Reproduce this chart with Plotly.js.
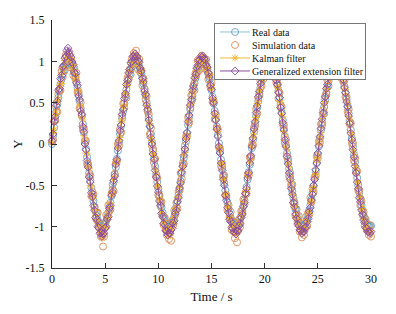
<!DOCTYPE html>
<html>
<head>
<meta charset="utf-8">
<script src="https://cdn.plot.ly/plotly-3.0.1.min.js"></script>
<style>
html,body{margin:0;padding:0;background:#fff;}
#chart{width:396px;height:314px;}
</style>
</head>
<body>
<div id="chart"></div>
<script>
const timeS = [
0,0.1,0.2,0.3,0.4,0.5,0.6,0.7,0.8,0.9,
1,1.1,1.2,1.3,1.4,1.5,1.6,1.7,1.8,1.9,
2,2.1,2.2,2.3,2.4,2.5,2.6,2.7,2.8,2.9,
3,3.1,3.2,3.3,3.4,3.5,3.6,3.7,3.8,3.9,
4,4.1,4.2,4.3,4.4,4.5,4.6,4.7,4.8,4.9,
5,5.1,5.2,5.3,5.4,5.5,5.6,5.7,5.8,5.9,
6,6.1,6.2,6.3,6.4,6.5,6.6,6.7,6.8,6.9,
7,7.1,7.2,7.3,7.4,7.5,7.6,7.7,7.8,7.9,
8,8.1,8.2,8.3,8.4,8.5,8.6,8.7,8.8,8.9,
9,9.1,9.2,9.3,9.4,9.5,9.6,9.7,9.8,9.9,
10,10.1,10.2,10.3,10.4,10.5,10.6,10.7,10.8,10.9,
11,11.1,11.2,11.3,11.4,11.5,11.6,11.7,11.8,11.9,
12,12.1,12.2,12.3,12.4,12.5,12.6,12.7,12.8,12.9,
13,13.1,13.2,13.3,13.4,13.5,13.6,13.7,13.8,13.9,
14,14.1,14.2,14.3,14.4,14.5,14.6,14.7,14.8,14.9,
15,15.1,15.2,15.3,15.4,15.5,15.6,15.7,15.8,15.9,
16,16.1,16.2,16.3,16.4,16.5,16.6,16.7,16.8,16.9,
17,17.1,17.2,17.3,17.4,17.5,17.6,17.7,17.8,17.9,
18,18.1,18.2,18.3,18.4,18.5,18.6,18.7,18.8,18.9,
19,19.1,19.2,19.3,19.4,19.5,19.6,19.7,19.8,19.9,
20,20.1,20.2,20.3,20.4,20.5,20.6,20.7,20.8,20.9,
21,21.1,21.2,21.3,21.4,21.5,21.6,21.7,21.8,21.9,
22,22.1,22.2,22.3,22.4,22.5,22.6,22.7,22.8,22.9,
23,23.1,23.2,23.3,23.4,23.5,23.6,23.7,23.8,23.9,
24,24.1,24.2,24.3,24.4,24.5,24.6,24.7,24.8,24.9,
25,25.1,25.2,25.3,25.4,25.5,25.6,25.7,25.8,25.9,
26,26.1,26.2,26.3,26.4,26.5,26.6,26.7,26.8,26.9,
27,27.1,27.2,27.3,27.4,27.5,27.6,27.7,27.8,27.9,
28,28.1,28.2,28.3,28.4,28.5,28.6,28.7,28.8,28.9,
29,29.1,29.2,29.3,29.4,29.5,29.6,29.7,29.8,29.9,
30];

const realData = [
0.00,0.10,0.20,0.30,0.39,0.48,0.56,0.64,0.72,0.78,
0.84,0.89,0.93,0.96,0.99,1.00,1.00,0.99,0.97,0.95,
0.91,0.86,0.81,0.75,0.68,0.60,0.52,0.43,0.34,0.24,
0.14,0.04,-0.06,-0.16,-0.26,-0.35,-0.44,-0.53,-0.61,-0.69,
-0.76,-0.82,-0.87,-0.92,-0.95,-0.98,-0.99,-1.00,-1.00,-0.98,
-0.96,-0.93,-0.88,-0.83,-0.77,-0.71,-0.63,-0.55,-0.46,-0.37,
-0.28,-0.18,-0.08,
0.02,0.12,0.22,0.31,0.40,0.49,0.58,0.66,0.73,0.79,
0.85,0.90,0.94,0.97,0.99,1.00,1.00,0.99,0.97,0.94,
0.90,0.85,0.80,0.73,0.66,0.59,0.50,0.41,0.32,0.22,
0.12,0.02,-0.08,-0.17,-0.27,-0.37,-0.46,-0.54,-0.63,-0.70,
-0.77,-0.83,-0.88,-0.92,-0.96,-0.98,-1.00,-1.00,-0.99,-0.98,
-0.95,-0.92,-0.88,-0.82,-0.76,-0.69,-0.62,-0.54,-0.45,-0.36,
-0.26,-0.17,-0.07,
0.03,0.13,0.23,0.33,0.42,0.51,0.59,0.67,0.74,0.80,
0.86,0.91,0.94,0.97,0.99,1.00,1.00,0.99,0.97,0.94,
0.90,0.85,0.79,0.72,0.65,0.57,0.49,0.40,0.30,0.21,
0.11,0.01,-0.09,-0.19,-0.29,-0.38,-0.47,-0.56,-0.64,-0.71,
-0.78,-0.84,-0.89,-0.93,-0.96,-0.98,-1.00,-1.00,-0.99,-0.98,
-0.95,-0.91,-0.87,-0.81,-0.75,-0.68,-0.61,-0.52,-0.43,-0.34,
-0.25,-0.15,-0.05,
0.05,0.15,0.25,0.34,0.44,0.52,0.61,0.68,0.75,0.81,
0.87,0.91,0.95,0.98,0.99,1.00,1.00,0.98,0.96,0.93,
0.89,0.84,0.78,0.71,0.64,0.56,0.47,0.38,0.29,0.19,
0.09,-0.01,-0.11,-0.21,-0.30,-0.40,-0.49,-0.57,-0.65,-0.72,
-0.79,-0.85,-0.90,-0.94,-0.97,-0.99,-1.00,-1.00,-0.99,-0.97,
-0.94,-0.91,-0.86,-0.80,-0.74,-0.67,-0.59,-0.51,-0.42,-0.33,
-0.23,-0.13,-0.03,
0.07,0.17,0.26,0.36,0.45,0.54,0.62,0.69,0.76,0.82,
0.88,0.92,0.95,0.98,0.99,1.00,1.00,0.98,0.96,0.92,
0.88,0.83,0.77,0.70,0.62,0.54,0.46,0.37,0.27,0.17,
0.07,-0.03,-0.13,-0.22,-0.32,-0.41,-0.50,-0.59,-0.66,-0.74,
-0.80,-0.86,-0.90,-0.94,-0.97,-0.99,-1.00,-1.00,-0.99];

const simulationData = [
0.03,0.05,0.28,0.28,0.45,0.39,0.60,0.65,0.65,0.88,
0.81,0.94,0.89,1.08,1.06,0.96,1.09,0.93,1.03,0.99,
0.83,0.92,0.79,0.86,0.63,0.63,0.43,0.50,0.35,0.18,
0.19,0.01,0.04,-0.24,-0.24,-0.39,-0.38,-0.63,-0.58,-0.61,
-0.77,-0.89,-0.83,-0.83,-1.01,-0.96,-1.12,-1.09,-1.24,-1.12,
-1.01,-0.86,-0.90,-0.74,-0.81,-0.79,-0.60,-0.49,-0.57,-0.36,
-0.23,-0.21,0.00,
-0.02,0.18,0.14,0.34,0.49,0.44,0.60,0.56,0.80,0.78,
0.90,0.84,1.02,1.00,1.10,0.98,1.13,1.04,0.90,1.03,
0.87,0.89,0.71,0.79,0.67,0.54,0.58,0.39,0.36,0.12,
0.19,-0.02,-0.06,-0.23,-0.18,-0.40,-0.41,-0.62,-0.62,-0.75,
-0.70,-0.87,-0.98,-0.89,-1.03,-1.10,-0.96,-1.15,-1.07,-1.17,
-0.93,-0.98,-0.80,-0.85,-0.71,-0.78,-0.58,-0.56,-0.35,-0.42,
-0.23,-0.24,-0.02,
0.09,0.09,0.32,0.26,0.44,0.59,0.54,0.71,0.65,0.86,
0.84,1.01,0.89,1.01,0.91,1.07,0.97,1.04,0.91,1.02,
0.92,0.78,0.84,0.69,0.74,0.51,0.52,0.30,0.36,0.19,
0.18,-0.04,-0.06,-0.27,-0.24,-0.40,-0.38,-0.62,-0.62,-0.80,
-0.74,-0.89,-0.82,-1.04,-0.93,-1.06,-1.14,-0.95,-1.19,-1.05,
-0.91,-1.00,-0.81,-0.84,-0.67,-0.73,-0.59,-0.60,-0.37,-0.38,
-0.16,-0.17,-0.01,
-0.01,0.20,0.22,0.42,0.37,0.56,0.59,0.77,0.70,0.84,
0.79,0.97,0.91,1.05,0.93,1.03,0.91,1.04,0.94,0.98,
0.82,0.92,0.74,0.73,0.55,0.62,0.44,0.45,0.24,0.23,
0.01,0.05,-0.15,-0.18,-0.39,-0.35,-0.52,-0.49,-0.71,-0.70,
-0.87,-0.79,-0.94,-0.87,-1.06,-1.03,-1.13,-0.96,-1.10,-1.02,
-0.88,-0.99,-0.83,-0.85,-0.65,-0.70,-0.54,-0.58,-0.40,-0.38,
-0.15,-0.17,0.03,
0.02,0.24,0.23,0.41,0.37,0.58,0.60,0.77,0.70,0.85,
0.81,0.97,0.91,1.04,0.91,1.04,0.95,1.05,0.93,0.98,
0.80,0.88,0.75,0.77,0.57,0.57,0.39,0.42,0.24,0.25,
0.01,0.01,-0.20,-0.17,-0.35,-0.33,-0.56,-0.56,-0.74,-0.69,
-0.86,-0.82,-0.99,-0.91,-1.04,-1.04,-1.10,-0.98,-1.12];

const kalmanFilter = [
0.02,0.14,0.17,0.36,0.37,0.53,0.52,0.71,0.73,0.73,
0.90,0.92,1.01,1.01,1.09,1.04,1.07,1.01,1.03,0.92,
0.96,0.88,0.77,0.81,0.66,0.64,0.47,0.46,0.32,0.29,
0.10,0.06,-0.11,-0.12,-0.29,-0.30,-0.50,-0.51,-0.65,-0.66,
-0.81,-0.80,-0.94,-0.94,-1.01,-1.07,-1.03,-1.14,-1.08,-1.09,
-0.99,-0.99,-0.86,-0.87,-0.72,-0.73,-0.59,-0.60,-0.43,-0.39,
-0.22,-0.21,-0.04,
0.05,0.08,0.27,0.29,0.46,0.46,0.62,0.71,0.71,0.86,
0.88,0.96,0.96,1.06,1.03,1.08,1.02,1.05,0.95,0.98,
0.87,0.90,0.76,0.76,0.61,0.61,0.47,0.46,0.28,0.25,
0.07,0.04,-0.12,-0.12,-0.30,-0.35,-0.51,-0.51,-0.67,-0.68,
-0.83,-0.85,-0.95,-0.95,-1.04,-1.02,-1.11,-1.06,-1.11,-1.01,
-1.01,-0.90,-0.92,-0.78,-0.79,-0.64,-0.64,-0.51,-0.49,-0.31,
-0.28,-0.13,-0.10,
0.07,0.11,0.28,0.30,0.48,0.49,0.63,0.64,0.79,0.82,
0.91,0.89,1.00,0.99,1.05,0.98,1.05,1.00,1.01,0.91,
0.94,0.83,0.84,0.68,0.68,0.54,0.53,0.35,0.33,0.19,
0.15,-0.04,-0.06,-0.23,-0.24,-0.41,-0.45,-0.61,-0.61,-0.75,
-0.76,-0.89,-0.91,-0.99,-0.99,-1.06,-1.04,-1.10,-1.04,-1.05,
-0.94,-0.96,-0.84,-0.85,-0.70,-0.70,-0.57,-0.55,-0.38,-0.36,
-0.22,-0.19,-0.02,
0.08,0.12,0.29,0.32,0.49,0.49,0.65,0.66,0.80,0.78,
0.91,0.92,1.00,0.96,1.04,0.97,1.04,0.96,1.01,0.90,
0.93,0.82,0.83,0.68,0.68,0.52,0.50,0.36,0.33,0.15,
0.12,-0.04,-0.07,-0.24,-0.28,-0.45,-0.46,-0.61,-0.63,-0.77,
-0.76,-0.89,-0.88,-0.99,-0.99,-1.06,-1.03,-1.08,-1.01,-1.03,
-0.92,-0.95,-0.83,-0.83,-0.70,-0.70,-0.55,-0.53,-0.38,-0.36,
-0.20,-0.17,0.01,
0.09,0.14,0.31,0.34,0.49,0.51,0.67,0.67,0.80,0.79,
0.92,0.90,1.00,0.95,1.03,0.98,1.04,0.95,1.00,0.90,
0.92,0.80,0.81,0.67,0.66,0.51,0.49,0.33,0.30,0.14,
0.11,-0.06,-0.10,-0.26,-0.29,-0.45,-0.47,-0.63,-0.64,-0.79,
-0.78,-0.91,-0.92,-1.00,-1.00,-1.06,-1.03,-1.09,-1.05];

const generalizedFilter = [
0.04,0.12,0.27,0.33,0.47,0.52,0.65,0.67,0.79,0.83,
0.93,0.95,1.04,1.06,1.13,1.16,1.12,1.08,1.05,0.99,
0.96,0.87,0.85,0.74,0.71,0.58,0.54,0.40,0.36,0.21,
0.15,0.00,-0.07,-0.20,-0.28,-0.40,-0.46,-0.59,-0.64,-0.74,
-0.80,-0.89,-0.92,-1.00,-1.01,-1.08,-1.07,-1.12,-1.09,-1.08,
-1.02,-1.00,-0.91,-0.88,-0.78,-0.75,-0.62,-0.58,-0.44,-0.39,
-0.25,-0.19,-0.05,
0.04,0.16,0.23,0.36,0.42,0.55,0.61,0.72,0.77,0.86,
0.90,0.98,1.00,1.06,1.06,1.09,1.06,1.06,1.01,0.99,
0.92,0.88,0.79,0.75,0.64,0.60,0.47,0.42,0.29,0.21,
0.08,0.00,-0.12,-0.19,-0.32,-0.40,-0.51,-0.58,-0.69,-0.74,
-0.84,-0.88,-0.96,-0.98,-1.05,-1.05,-1.10,-1.08,-1.08,-1.04,
-1.02,-0.96,-0.93,-0.84,-0.80,-0.70,-0.65,-0.53,-0.47,-0.34,
-0.27,-0.14,-0.06,
0.06,0.14,0.27,0.35,0.47,0.54,0.65,0.70,0.80,0.84,
0.92,0.95,1.01,1.02,1.06,1.05,1.06,1.03,1.02,0.96,
0.93,0.86,0.81,0.71,0.66,0.55,0.50,0.37,0.29,0.18,
0.09,-0.03,-0.11,-0.23,-0.32,-0.43,-0.50,-0.62,-0.68,-0.77,
-0.83,-0.91,-0.94,-1.01,-1.02,-1.06,-1.07,-1.09,-1.05,-1.05,
-0.99,-0.96,-0.89,-0.85,-0.76,-0.71,-0.60,-0.54,-0.41,-0.35,
-0.23,-0.14,-0.03,
0.07,0.18,0.27,0.38,0.46,0.57,0.64,0.73,0.79,0.87,
0.91,0.97,0.99,1.04,1.03,1.06,1.03,1.03,0.98,0.97,
0.90,0.86,0.77,0.72,0.62,0.56,0.44,0.37,0.26,0.17,
0.05,-0.03,-0.15,-0.24,-0.35,-0.43,-0.54,-0.61,-0.71,-0.76,
-0.85,-0.90,-0.97,-0.99,-1.04,-1.05,-1.08,-1.06,-1.06,-1.02,
-1.00,-0.94,-0.90,-0.82,-0.77,-0.68,-0.61,-0.50,-0.43,-0.31,
-0.23,-0.11,-0.02,
0.09,0.19,0.30,0.38,0.50,0.57,0.67,0.72,0.81,0.86,
0.93,0.95,1.01,1.01,1.04,1.03,1.04,1.01,0.99,0.94,
0.90,0.83,0.78,0.68,0.62,0.51,0.45,0.34,0.25,0.13,
0.05,-0.07,-0.16,-0.27,-0.35,-0.46,-0.54,-0.65,-0.70,-0.80,
-0.85,-0.92,-0.95,-1.01,-1.02,-1.06,-1.06,-1.08,-1.06];

const seriesNames = ['Real data','Simulation data','Kalman filter','Generalized extension filter'];
const xTickVals = [0,5,10,15,20,25,30];
const xTickText = ['0','5','10','15','20','25','30'];
const yTickVals = [-1.5,-1,-0.5,0,0.5,1,1.5];
const yTickText = ['-1.5','-1','-0.5','0','0.5','1','1.5'];

const FONT = 'Liberation Serif, Times New Roman, serif';

const traces = [
  {x: timeS, y: realData, name: seriesNames[0], type: 'scatter', mode: 'lines+markers', cliponaxis: false,
   line: {color: '#8fc0da', width: 1},
   marker: {symbol: 'circle-open', size: 7, color: '#5f9fc8', line: {width: 0.9}}},
  {x: timeS, y: simulationData, name: seriesNames[1], type: 'scatter', mode: 'markers', cliponaxis: false,
   marker: {symbol: 'circle-open', size: 7, color: '#dc8a55', line: {width: 0.9}}},
  {x: timeS, y: kalmanFilter, name: seriesNames[2], type: 'scatter', mode: 'lines+markers', cliponaxis: false,
   line: {color: '#efbb3c', width: 1},
   marker: {symbol: 'asterisk-open', size: 6, color: '#f0b530', line: {width: 0.9}}},
  {x: timeS, y: generalizedFilter, name: seriesNames[3], type: 'scatter', mode: 'lines+markers', cliponaxis: false,
   line: {color: '#8a4f9e', width: 1},
   marker: {symbol: 'diamond-open', size: 6, color: '#8a4a9c', line: {width: 0.9}}}
];

const layout = {
  width: 396, height: 314,
  margin: {l: 52, r: 25, t: 20, b: 46},
  paper_bgcolor: '#ffffff', plot_bgcolor: '#ffffff',
  font: {family: FONT, size: 12, color: '#111'},
  showlegend: true,
  legend: {x: 0.508, y: 0.988, xanchor: 'left', yanchor: 'top', bgcolor: '#ffffff',
           bordercolor: '#777', borderwidth: 1, font: {family: FONT, size: 10, color: '#111'}},
  xaxis: {range: [0, 30], tickvals: xTickVals, ticktext: xTickText, ticks: 'inside', ticklen: 5,
          tickcolor: '#333', showline: true, linecolor: '#333', linewidth: 1, showgrid: false,
          zeroline: false, tickfont: {family: FONT, size: 12},
          title: {text: 'Time / s', font: {family: FONT, size: 13}, standoff: 6}},
  yaxis: {range: [-1.5, 1.5], tickvals: yTickVals, ticktext: yTickText, ticks: 'inside', ticklen: 5,
          tickcolor: '#333', showline: true, linecolor: '#222', linewidth: 1, showgrid: false,
          zeroline: false, tickfont: {family: FONT, size: 12}, ticklabelstandoff: 4,
          title: {text: 'Y', font: {family: FONT, size: 13}, standoff: 0}}
};

Plotly.newPlot('chart', traces, layout, {staticPlot: true, displayModeBar: false}).then(function (gd) {
  const legend = gd.querySelector('g.legend');
  if (!legend) return;
  const items = legend.querySelectorAll('g.traces');
  const pos = [];
  items.forEach(function (it) {
    const m = /translate\(\s*([-\d.]+)[ ,]+([-\d.]+)\s*\)/.exec(it.getAttribute('transform') || '');
    pos.push(m ? [parseFloat(m[1]), parseFloat(m[2])] : [0, 0]);
  });
  const spacing = 13, firstY = 9;
  items.forEach(function (it, i) {
    it.setAttribute('transform', 'translate(' + pos[i][0] + ',' + (firstY + i * spacing) + ')');
  });
  legend.querySelectorAll('text.legendtext').forEach(function (t) {
    const x = parseFloat(t.getAttribute('x') || '0');
    t.setAttribute('x', x - 3);
  });
  const bg = legend.querySelector('rect.bg');
  if (bg) {
    bg.setAttribute('height', firstY + (items.length - 1) * spacing + 8);
    const w = parseFloat(bg.getAttribute('width') || '0');
    if (w) bg.setAttribute('width', w - 7);
  }
});
</script>
</body>
</html>
